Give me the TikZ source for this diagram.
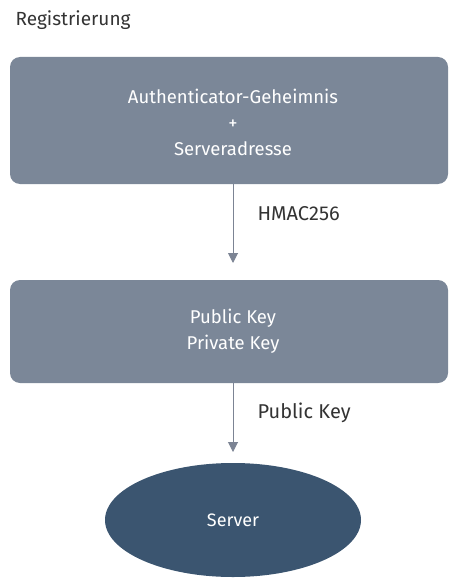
\documentclass[tikz,border=0pt]{standalone}
\usepackage{fontspec}
\setmainfont{Fira Sans}
\usetikzlibrary{shapes.geometric,arrows.meta}
\definecolor{boxgray}{HTML}{7B8798}
\definecolor{servblue}{HTML}{3B5570}
\definecolor{arrgray}{HTML}{7C8494}
\definecolor{txtdark}{HTML}{333333}
\tikzset{
  procbox/.style={fill=boxgray, draw=none, rounded corners=10pt},
  boxtext/.style={text=white, font=\fontsize{18.5}{26}\selectfont, align=center},
  lbl/.style={text=txtdark, font=\fontsize{20}{24}\selectfont, anchor=west},
  conn/.style={draw=arrgray, line width=1pt, -{Triangle[length=10pt,width=10pt]}},
}
\begin{document}
\begin{tikzpicture}[x=1pt,y=-1pt]
\useasboundingbox (0,0) rectangle (450,580);
\node[text=txtdark, font=\fontsize{19}{22}\selectfont, anchor=west] (title) at (12,20) {Registrierung};
\fill[procbox] (10,57) rectangle (448,184);
\coordinate (b1bot) at (233,184);
\coordinate (t1) at (233,263);
\node[boxtext] (b1) at (233,122) {Authenticator-Geheimnis\\+\\Serveradresse};
\fill[procbox] (10,280) rectangle (448,383);
\coordinate (b2bot) at (233,383);
\coordinate (t2) at (233,452);
\node[boxtext] (b2) at (233,331) {Public Key\\Private Key};
\node[ellipse, fill=servblue, minimum width=256pt, minimum height=114pt, inner sep=0pt, text=white, font=\fontsize{18}{22}\selectfont] (srv) at (233,520) {Server};
\draw[conn] (b1bot) -- (t1);
\draw[conn] (b2bot) -- (t2);
\node[lbl] (l1) at (254,214) {HMAC256};
\node[lbl] (l2) at (254,413) {Public Key};
\end{tikzpicture}
\end{document}
